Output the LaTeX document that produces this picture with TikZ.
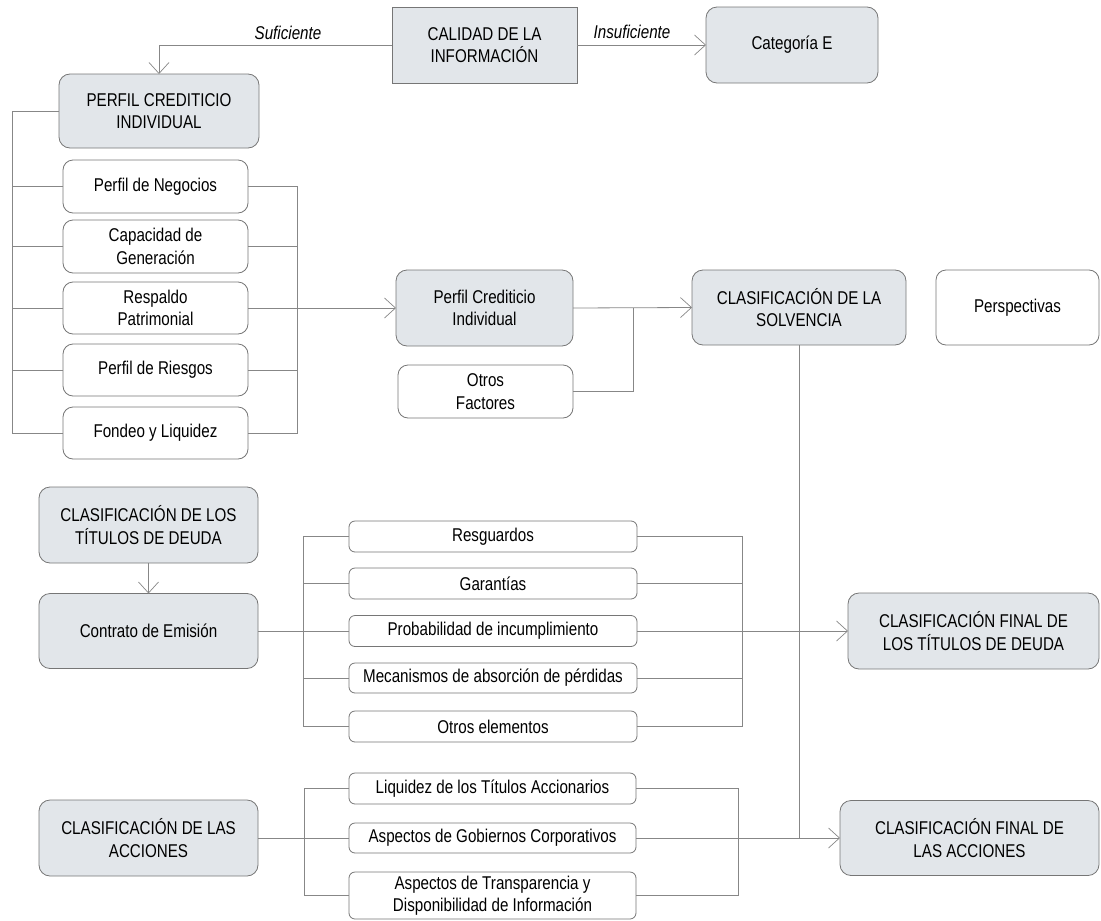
\documentclass[tikz,border=0pt]{standalone}
\usepackage{fontspec}
\setmainfont{Liberation Sans}[FakeStretch=0.82]
\usetikzlibrary{arrows.meta}
\definecolor{boxfill}{RGB}{226,230,234}
\definecolor{boxline}{RGB}{118,118,118}
\definecolor{conn}{RGB}{135,135,135}
\begin{document}
\begin{tikzpicture}[x=1pt,y=-1pt,
  base/.style={draw=boxline, line width=0.8pt, inner sep=0pt, outer sep=0pt, align=center,
    font=\fontsize{18.5}{22.5}\selectfont},
  grayrect/.style={base, fill=boxfill},
  graybox/.style={base, fill=boxfill, rounded corners=11pt},
  whitebox/.style={base, fill=white, rounded corners=10pt},
  wbsmall/.style={base, fill=white, rounded corners=6pt},
  line/.style={draw=conn, line width=0.8pt},
  arr/.style={line, -{Straight Barb[length=11pt,width=20pt,line width=0.7pt]}},
  lbl/.style={font=\fontsize{18.5}{22.5}\selectfont\itshape, inner sep=0pt}
]
\useasboundingbox (0,0) rectangle (1101,921);

% top row
\node[grayrect, minimum width=185, minimum height=76] (cal) at (484.5,45) {CALIDAD DE LA\\INFORMACIÓN};
\node[graybox, minimum width=172, minimum height=76] (catE) at (792,45) {Categoría E};
\node[graybox, minimum width=200, minimum height=74] (pci1) at (159,111) {PERFIL CREDITICIO\\INDIVIDUAL};

\node[lbl] (suf) at (288,33) {Suficiente};
\node[lbl] (insuf) at (632,32) {Insuficiente};

% individual profile items
\node[whitebox, minimum width=185, minimum height=53] (neg) at (155.5,186.5) {Perfil de Negocios};
\node[whitebox, minimum width=185, minimum height=53] (cap) at (155.5,246.5) {Capacidad de\\Generación};
\node[whitebox, minimum width=185, minimum height=52] (res) at (155.5,308) {Respaldo\\Patrimonial};
\node[whitebox, minimum width=185, minimum height=52] (rie) at (155.5,370) {Perfil de Riesgos};
\node[whitebox, minimum width=185, minimum height=52] (fon) at (155.5,433) {Fondeo y Liquidez};

\node[graybox, minimum width=177, minimum height=76] (pci2) at (484.5,308) {Perfil Crediticio\\Individual};
\node[whitebox, minimum width=175, minimum height=53] (otros) at (485.5,391.5) {Otros\\Factores};
\node[graybox, minimum width=214, minimum height=75] (solv) at (799,307.5) {CLASIFICACIÓN DE LA\\SOLVENCIA};
\node[whitebox, minimum width=163, minimum height=75] (persp) at (1017.5,307.5) {Perspectivas};

% debt
\node[graybox, minimum width=219, minimum height=76] (cltd) at (148.5,525) {CLASIFICACIÓN DE LOS\\TÍTULOS DE DEUDA};
\node[graybox, minimum width=219, minimum height=75] (contr) at (148.5,631) {Contrato de Emisión};
\node[wbsmall, minimum width=288, minimum height=31] (resg) at (493,536.5) {Resguardos};
\node[wbsmall, minimum width=288, minimum height=31] (gar) at (493,583.5) {Garantías};
\node[wbsmall, minimum width=288, minimum height=31] (prob) at (493,631) {Probabilidad de incumplimiento};
\node[wbsmall, minimum width=288, minimum height=30] (mec) at (493,678) {Mecanismos de absorción de pérdidas};
\node[wbsmall, minimum width=288, minimum height=31] (otrel) at (493,726.5) {Otros elementos};
\node[graybox, minimum width=251, minimum height=76] (fintd) at (973.5,631) {CLASIFICACIÓN FINAL DE\\LOS TÍTULOS DE DEUDA};

% shares
\node[graybox, minimum width=219, minimum height=76] (clacc) at (148.5,838) {CLASIFICACIÓN DE LAS\\ACCIONES};
\node[wbsmall, minimum width=287, minimum height=31] (liq) at (492.5,788.5) {Liquidez de los Títulos Accionarios};
\node[wbsmall, minimum width=287, minimum height=30] (gob) at (492.5,838) {Aspectos de Gobiernos Corporativos};
\node[wbsmall, minimum width=287, minimum height=47] (transp) at (492.5,895.5) {Aspectos de Transparencia y\\Disponibilidad de Información};
\node[graybox, minimum width=259, minimum height=75] (finacc) at (969.5,838) {CLASIFICACIÓN FINAL DE\\LAS ACCIONES};

% bracket coordinates
\coordinate (lb1) at (12,0);
\coordinate (rb1) at (297,0);
\coordinate (j1) at (633,0);
\coordinate (lb2) at (303,0);
\coordinate (rb2) at (742,0);
\coordinate (lb3) at (304,0);
\coordinate (rb3) at (738,0);

% top connectors
\draw[arr] (cal.west) -| (pci1.north);
\draw[arr] (cal.east) -- (catE.west);

% left bracket of individual profile
\draw[line] (pci1.west) -- (pci1.west -| lb1) -- (fon.west -| lb1) -- (fon.west);
\foreach \n in {neg,cap,res,rie}{\draw[line] (\n.west) -- (\n.west -| lb1);}
% right bracket
\draw[line] (neg.east) -- (neg.east -| rb1) -- (fon.east -| rb1) -- (fon.east);
\foreach \n in {cap,rie}{\draw[line] (\n.east) -- (\n.east -| rb1);}
\draw[arr] (res.east) -- (pci2.west);

% to solvency
\draw[arr] (pci2.east) -- (solv.west);
\draw[line] (otros.east) -- (otros.east -| j1) -- (pci2.east -| j1);
\draw[line] (solv.south) -- (solv.south |- finacc.west);

% debt
\draw[arr] (cltd.south) -- (contr.north);
\draw[line] (contr.east) -- (contr.east -| lb2);
\draw[line] (resg.west) -- (resg.west -| lb2) -- (otrel.west -| lb2) -- (otrel.west);
\foreach \n in {gar,prob,mec}{\draw[line] (\n.west) -- (\n.west -| lb2);}
\draw[line] (resg.east) -- (resg.east -| rb2) -- (otrel.east -| rb2) -- (otrel.east);
\foreach \n in {gar,prob,mec}{\draw[line] (\n.east) -- (\n.east -| rb2);}
\draw[arr] (prob.east -| rb2) -- (fintd.west);

% shares
\draw[line] (clacc.east) -- (clacc.east -| lb3);
\draw[line] (liq.west) -- (liq.west -| lb3) -- (transp.west -| lb3) -- (transp.west);
\draw[line] (gob.west) -- (gob.west -| lb3);
\draw[line] (liq.east) -- (liq.east -| rb3) -- (transp.east -| rb3) -- (transp.east);
\draw[line] (gob.east) -- (gob.east -| rb3);
\draw[arr] (gob.east -| rb3) -- (finacc.west);
\end{tikzpicture}
\end{document}
